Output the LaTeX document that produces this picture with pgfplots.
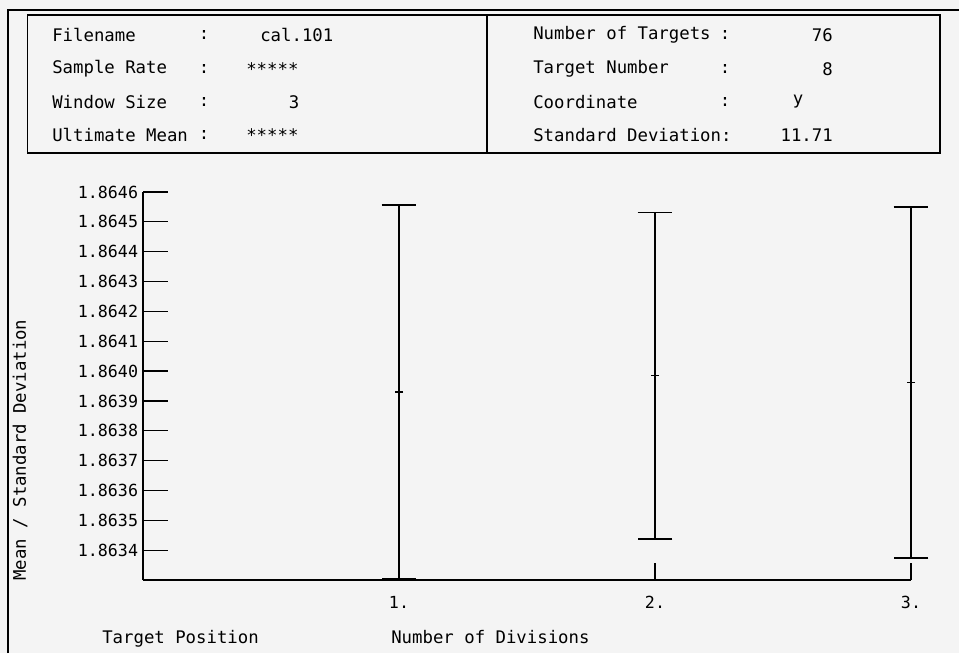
\documentclass[border=0pt]{standalone}
\usepackage{pgfplots}
\pgfplotsset{compat=1.18}
\usepackage{fontspec}
\setmainfont{DejaVu Sans Mono}
\definecolor{bg}{HTML}{F4F4F4}
\newcommand\pf{\fontsize{13pt}{15.5pt}\selectfont}
\newcommand\tf{\fontsize{12.5pt}{15pt}\selectfont}
\begin{document}
\begin{tikzpicture}
\begin{scope}[x=0.75pt,y=-0.75pt]
\useasboundingbox (0,0) rectangle (959,653);
\fill[bg] (0,0) rectangle (959,653);
\draw[line width=1.2pt] (8,653) -- (8,10) -- (959,10);
\draw[line width=1.2pt] (27.5,15) rectangle (940,153);
\draw[line width=1pt] (487,15) -- (487,153);
\begin{scope}[every node/.style={font=\pf, inner sep=0pt}]
\node[anchor=west] at (52,35) {Filename};
\node at (204,35) {:};
\node[anchor=west] at (260,35) {cal.101};
\node[anchor=west] at (52,69) {Sample Rate};
\node at (204,69) {:};
\node[anchor=west] at (246,69) {*****};
\node[anchor=west] at (52,102) {Window Size};
\node at (204,102) {:};
\node at (294,102) {3};
\node[anchor=west] at (52,135) {Ultimate Mean};
\node at (204,135) {:};
\node[anchor=west] at (246,135) {*****};
\node[anchor=west] at (533,35) {Number of Targets};
\node at (725,35) {:};
\node[anchor=east] at (833,35) {76};
\node[anchor=west] at (533,69) {Target Number};
\node at (725,69) {:};
\node[anchor=east] at (833,69) {8};
\node[anchor=west] at (533,102) {Coordinate};
\node at (725,102) {:};
\node at (798,102) {y};
\node[anchor=west] at (533,135) {Standard Deviation:};
\node[anchor=east] at (833,135) {11.71};
\node[rotate=90] at (20,450) {Mean / Standard Deviation};
\node[anchor=west] at (102,639) {Target Position};
\node[anchor=west] at (391,637) {Number of Divisions};
\end{scope}
\end{scope}
\begin{axis}[
  at={(107.25pt,-435pt)}, anchor=south west,
  scale only axis, width=576pt, height=291pt,
  xmin=0, xmax=3, ymin=1.8633, ymax=1.8646,
  axis x line=bottom, axis y line=left,
  axis line style={-, line width=1.2pt},
  clip=false,
  tick align=inside,
  major tick length=18.75pt,
  tick style={black, line width=0.9pt},
  xtick={1,2,3}, xticklabels={1.,2.,3.},
  xtick style={/pgfplots/major tick length=13pt},
  ytick={1.8634,1.8635,1.8636,1.8637,1.8638,1.8639,1.8640,1.8641,1.8642,1.8643,1.8644,1.8645,1.8646},
  yticklabel style={font=\tf, inner sep=0pt, xshift=-3.5pt,
    /pgf/number format/.cd, fixed, fixed zerofill, precision=4, assume math mode=true},
  xticklabel style={font=\tf, inner sep=0pt, yshift=-12pt},
  scaled y ticks=false,
]
\addplot[black, line width=0.9pt, only marks, mark=-, mark size=3pt,
  error bars/.cd, y dir=both, y explicit, error mark=-,
  error mark options={rotate=90, mark size=13pt, line width=1.2pt},
  error bar style={line width=0.9pt}]
  coordinates {
  (1,1.863930) +- (0,0.000626)
  (2,1.863984) +- (0,0.000547)
  (3,1.863961) +- (0,0.000588)
  };
\end{axis}
\end{tikzpicture}
\end{document}
